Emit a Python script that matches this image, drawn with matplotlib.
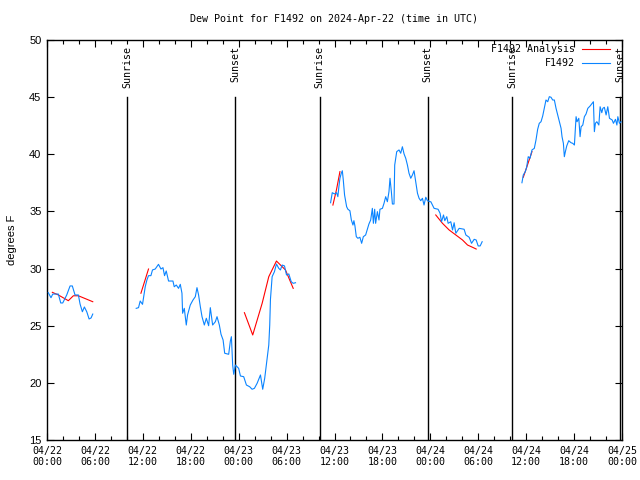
import numpy as np
import matplotlib
matplotlib.use("Agg")
import matplotlib.pyplot as plt
from matplotlib.ticker import MultipleLocator

nan = np.nan

# Observed series (hours since 2024-04-22 00:00 UTC, dew point in F); NaN = gap
obs_hours = [
    0.16, 0.50, 0.72, 1.42, 1.72, 1.97, 2.47, 2.89, 3.17, 3.51, 3.93, 4.14, 4.43, 4.68, 4.98, 5.27, 5.52, 5.73,
    8.0,
    11.17, 11.46, 11.67, 11.96, 12.08, 12.30, 12.51, 12.71, 13.01, 13.21, 13.55, 13.96, 14.27, 14.52, 14.72,
    14.93, 15.22, 15.77, 15.93, 16.19, 16.47, 16.69, 16.90, 16.98, 17.19, 17.44, 17.60, 17.94, 18.28, 18.57,
    18.78, 18.98, 19.20, 19.41, 19.70, 19.95, 20.24, 20.45, 20.74, 21.08, 21.29, 21.58, 21.79, 22.05, 22.25,
    22.75, 22.96, 23.09, 23.25, 23.38, 23.59, 23.80, 24.00, 24.22, 24.63, 24.97, 25.38, 25.68, 25.97, 26.31,
    26.73, 27.01, 27.26, 27.57, 27.77, 27.89, 27.98, 28.19, 28.48, 28.73, 29.02, 29.23, 29.45, 29.74, 29.99,
    30.28, 30.58, 30.83, 31.12,
    33.0,
    35.51, 35.72, 36.01, 36.26, 36.42, 36.55, 36.68, 36.85, 36.98, 37.10, 37.26, 37.52, 37.68, 37.93, 38.11,
    38.31, 38.43, 38.56, 38.73, 38.93, 39.18, 39.40, 39.61, 39.90, 40.11, 40.31, 40.53, 40.74, 40.87, 41.03,
    41.15, 41.37, 41.57, 41.69, 42.00, 42.20, 42.41, 42.62, 42.82, 42.95, 43.12, 43.25, 43.45, 43.54, 43.79,
    44.08, 44.29, 44.50, 44.71, 44.92, 45.13, 45.33, 45.55, 45.76, 45.96, 46.17, 46.39, 46.59, 46.80, 47.01,
    47.21, 47.43, 47.64, 47.97, 48.06, 48.47, 48.97, 49.22, 49.40, 49.65, 49.81, 50.06, 50.23, 50.56, 50.78,
    50.98, 51.19, 51.61, 52.23, 52.45, 52.86, 53.16, 53.49, 53.74, 53.99, 54.24, 54.49,
    57.0,
    59.47, 59.64, 59.89, 60.06, 60.26, 60.48, 60.73, 61.02, 61.23, 61.44, 61.64, 61.86, 62.07, 62.27, 62.48,
    62.70, 62.90, 63.11, 63.32, 63.53, 63.74, 63.95, 64.15, 64.37, 64.49, 64.66, 64.78, 64.91, 65.08, 65.33,
    65.62, 65.83, 66.04, 66.25, 66.37, 66.59, 66.75, 66.88, 67.09, 67.29, 67.50, 67.72, 68.01, 68.26, 68.42,
    68.54, 68.67, 68.85, 69.10, 69.26, 69.47, 69.60, 69.79, 70.01, 70.22, 70.43, 70.77, 70.93, 71.18, 71.36,
    71.48, 71.68, 71.89,
]
obs_values = [
    27.89, 27.45, 27.77, 27.77, 26.99, 26.99, 27.69, 28.48, 28.48, 27.69, 27.69, 26.90, 26.22, 26.64, 26.22, 25.59, 25.68, 26.02,
    nan,
    26.52, 26.58, 27.16, 26.87, 27.40, 28.41, 29.00, 29.38, 29.38, 29.88, 29.96, 30.37, 29.96, 30.08, 29.38,
    29.79, 28.91, 28.91, 28.41, 28.56, 28.27, 28.62, 27.84, 26.09, 26.52, 25.06, 25.94, 26.81, 27.25, 27.54,
    28.33, 27.69, 26.66, 25.79, 25.06, 25.65, 25.00, 26.58, 25.06, 25.35, 25.79, 25.06, 24.25, 23.75, 22.59,
    22.50, 23.66, 24.04, 21.56, 20.75, 21.56, 21.41, 21.27, 20.60, 20.54, 19.81, 19.66, 19.44, 19.52, 19.96,
    20.69, 19.44, 20.40, 22.15, 23.31, 25.06, 27.31, 29.29, 29.73, 30.40, 30.02, 29.88, 30.31, 30.23, 29.44,
    29.53, 28.85, 28.71, 28.76,
    nan,
    35.76, 36.64, 36.53, 36.64, 36.29, 37.16, 37.90, 38.34, 38.56, 37.75, 36.44, 35.41, 35.19, 35.06, 34.25,
    33.81, 34.19, 33.73, 32.79, 32.65, 32.74, 32.21, 32.79, 32.94, 33.44, 33.90, 34.25, 35.27, 33.96, 35.19,
    33.96, 34.98, 34.25, 35.19, 35.27, 35.71, 36.29, 35.85, 36.73, 37.90, 36.73, 35.65, 35.65, 39.06, 40.23,
    40.38, 40.09, 40.66, 40.03, 39.65, 39.06, 38.34, 37.90, 38.19, 38.56, 37.60, 36.59, 36.15, 35.94, 36.15,
    35.56, 36.24, 35.94, 35.85, 35.85, 35.27, 35.19, 34.84, 34.10, 34.69, 34.19, 34.54, 33.96, 34.10, 33.38,
    34.01, 33.09, 33.52, 33.44, 32.94, 32.74, 32.21, 32.56, 32.50, 31.98, 31.98, 32.35,
    nan,
    37.51, 38.19, 38.48, 38.86, 39.79, 39.65, 40.38, 40.52, 41.25, 42.19, 42.71, 42.85, 43.35, 44.02, 44.75,
    44.60, 45.04, 44.99, 44.75, 44.75, 44.02, 43.44, 42.85, 42.27, 41.54, 40.96, 39.79, 40.23, 40.73, 41.19,
    41.01, 40.96, 40.81, 43.29, 42.85, 43.15, 41.54, 42.41, 42.56, 43.29, 43.53, 44.02, 44.23, 44.46, 44.60,
    41.98, 42.71, 42.85, 42.56, 44.16, 43.64, 44.02, 44.11, 43.44, 44.16, 43.15, 43.00, 42.71, 43.06, 42.56,
    43.29, 42.71, 42.85,
]

# Analysis series
ana_hours = [
    0.67, 1.42, 2.67, 3.30, 3.93, 5.73,
    8.0,
    11.76, 12.71,
    18.0,
    24.72, 25.76, 26.94, 27.77, 28.73, 29.86, 30.83,
    33.0,
    35.80, 36.26, 36.68,
    42.0,
    48.68, 49.52, 50.35, 51.19, 52.03, 52.66, 53.29, 53.74,
    57.0,
    59.64, 60.73,
]
ana_values = [
    27.92, 27.69, 27.19, 27.62, 27.62, 27.10,
    nan,
    27.84, 29.96,
    nan,
    26.14, 24.19, 26.96, 29.29, 30.66, 29.88, 28.27,
    nan,
    35.56, 36.94, 38.48,
    nan,
    34.69, 33.96, 33.38, 32.94, 32.50, 32.06, 31.86, 31.71,
    nan,
    37.99, 40.23,
]

sun_hours = [10.04, 23.59, 34.13, 47.68, 58.22, 71.77]
sun_labels = ["Sunrise", "Sunset", "Sunrise", "Sunset", "Sunrise", "Sunset"]

xtick_hours = [0, 6, 12, 18, 24, 30, 36, 42, 48, 54, 60, 66, 72]
xtick_labels = ["04/22\n00:00", "04/22\n06:00", "04/22\n12:00", "04/22\n18:00",
                "04/23\n00:00", "04/23\n06:00", "04/23\n12:00", "04/23\n18:00",
                "04/24\n00:00", "04/24\n06:00", "04/24\n12:00", "04/24\n18:00",
                "04/25\n00:00"]
ytick_values = [15, 20, 25, 30, 35, 40, 45, 50]

title = "Dew Point for F1492 on 2024-Apr-22 (time in UTC)"
mono = "DejaVu Sans Mono"
sans = "Liberation Sans"
red = "#ff0000"
blue = "#0a84ff"

fig = plt.figure(figsize=(6.4, 4.8), dpi=100)
ax = fig.add_axes([47 / 640, 1 - 440 / 480, 575 / 640, 400 / 480])

ax.plot(obs_hours, obs_values, color=blue, lw=0.8, zorder=3)
ax.plot(ana_hours, ana_values, color=red, lw=0.8, zorder=2)

for h, lab in zip(sun_hours, sun_labels):
    ax.plot([h, h], [15, 45], color="black", lw=1.0, zorder=1)
    ax.text(h, 49.5, lab, rotation=90, ha="center", va="top",
            fontsize=7.2, family=mono)

ax.set_xlim(0, 72)
ax.set_ylim(15, 50)
ax.set_xticks(xtick_hours)
ax.set_xticklabels(xtick_labels, family=mono, fontsize=7.2)
ax.xaxis.set_minor_locator(MultipleLocator(2))
ax.set_yticks(ytick_values)
ax.set_yticklabels([str(v) for v in ytick_values], family=sans, fontsize=8)
ax.tick_params(which="both", direction="in", top=True, right=True, width=0.8)
ax.tick_params(which="major", length=5, pad=4)
ax.tick_params(which="minor", length=3)
for s in ax.spines.values():
    s.set_linewidth(1.0)

ax.set_ylabel("degrees F", family=sans, fontsize=8, labelpad=9)
fig.text(334 / 640, 1 - 19 / 480, title, ha="center", va="center", family=mono, fontsize=7.2)

# legend (gnuplot style, text right-aligned)
for i, (lab, col) in enumerate([("F1492 Analysis", red), ("F1492", blue)]):
    yy = 0.9775 - i * 0.035
    ax.text(0.918, yy, lab, transform=ax.transAxes, ha="right", va="center",
            family=mono, fontsize=7.2)
    ax.plot([0.930, 0.979], [yy, yy], transform=ax.transAxes, color=col, lw=0.8)

fig.savefig("out.png", dpi=100)
